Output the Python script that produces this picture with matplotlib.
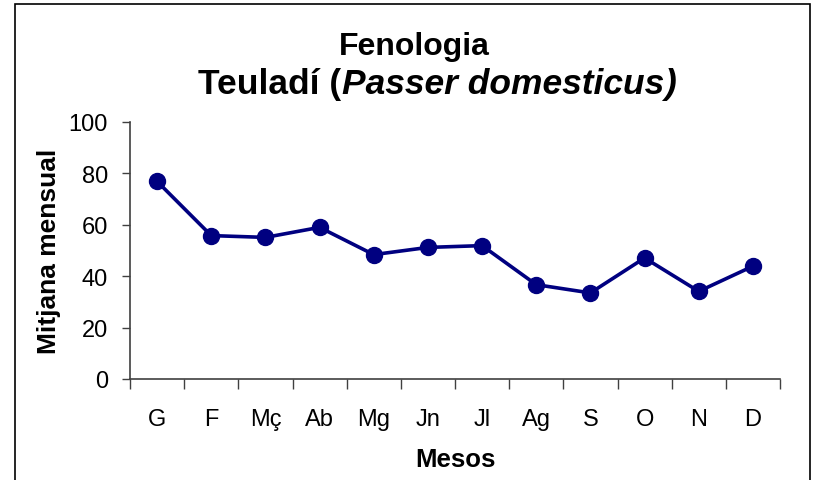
import matplotlib
matplotlib.use('Agg')
import matplotlib.pyplot as plt
import numpy as np
from matplotlib.patches import Rectangle

plt.rcParams['font.family'] = ['Liberation Sans', 'DejaVu Sans']

mesos = ['G', 'F', 'Mç', 'Ab', 'Mg', 'Jn', 'Jl', 'Ag', 'S', 'O', 'N', 'D']
mitjana = [76.9, 55.8, 55.1, 59.0, 48.4, 51.2, 51.9, 36.7, 33.5, 47.1, 34.1, 43.9]

fig = plt.figure(figsize=(8.14, 4.81), dpi=100)
ax = fig.add_axes([130 / 814, 1 - 380 / 481, 650 / 814, 257 / 481])

x = np.arange(len(mesos))
ax.plot(x, mitjana, color='#000080', lw=2.6, marker='o', ms=11.5, clip_on=False)

ax.set_xlim(-0.5, len(mesos) - 0.5)
ax.set_ylim(0, 100)
ax.set_yticks(np.arange(0, 101, 20))
ax.set_xticks(np.arange(-0.5, len(mesos)))
ax.set_xticklabels([])
ax.set_xticks(x, minor=True)
ax.set_xticklabels(mesos, minor=True)
ax.tick_params(axis='x', which='major', length=7, width=1, color='#404040', direction='out')
ax.tick_params(axis='x', which='minor', length=0, pad=21, labelsize=17)
ax.tick_params(axis='y', length=6, width=1, color='#404040', labelsize=17, pad=10)

for s in ['top', 'right']:
    ax.spines[s].set_visible(False)
for s in ['left', 'bottom']:
    ax.spines[s].set_color('#404040')
    ax.spines[s].set_linewidth(1.2)

ax.set_xlabel('Mesos', fontsize=18.5, fontweight='bold', labelpad=12)
ax.set_ylabel('Mitjana mensual', fontsize=19, fontweight='bold', labelpad=5)

# titol
fig.text(414 / 814, 1 - 55 / 481, 'Fenologia', ha='center', va='baseline',
         fontsize=23, fontweight='bold')
parts = [('Teuladí (', 'normal'), ('Passer domesticus', 'italic'), (')', 'italic')]
fig.canvas.draw()
r = fig.canvas.get_renderer()
texts = []
for s, st in parts:
    t = fig.text(0, 1 - 94 / 481, s, ha='left', va='baseline', fontsize=25.5,
                 fontweight='bold', style=st)
    texts.append(t)
widths = [t.get_window_extent(r).width for t in texts]
xpos = 437 - sum(widths) / 2
for t, w in zip(texts, widths):
    t.set_x(xpos / 814)
    xpos += w

# marc
fig.patches.append(Rectangle((15 / 814, -0.1), 795 / 814, 1.1 - 5 / 481,
                             transform=fig.transFigure, fill=False,
                             edgecolor='black', lw=1.2))

fig.savefig('out.png', dpi=100)
